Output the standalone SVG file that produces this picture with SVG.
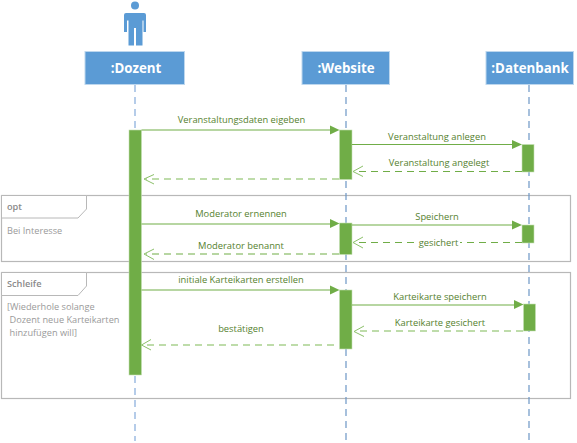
<svg xmlns="http://www.w3.org/2000/svg" width="577" height="443" viewBox="0 0 577 443">
<style>
text{font-family:"Open Sans","Noto Sans","Liberation Sans",sans-serif}
.hd{fill:#5b9bd5;stroke:#bdd7ee;stroke-width:1}
.hdt{font-size:13.300px;font-weight:700;fill:#fff;text-anchor:middle}
.ll1{stroke:#9dbce2;stroke-width:1.5;stroke-dasharray:7 5;fill:none}
.ll2{stroke:#6d97c6;stroke-width:1.2;stroke-dasharray:7 5;fill:none}
.act{fill:#70ad47;stroke:#c5e0b4;stroke-width:.6}
.msg{stroke:#70ad47;stroke-width:1.2;fill:none}
.ret{stroke:#70ad47;stroke-width:1.2;stroke-dasharray:7 5;fill:none}
.ret2{stroke:#a9d18e;stroke-width:1.4;stroke-dasharray:7 5;fill:none}
.tri{fill:#70ad47}
.open{stroke:#8cc06a;stroke-width:1;fill:none}
.lb{font-size:9.350px;fill:#56822f;text-anchor:middle}
.frame{fill:none;stroke:#b8b8b8;stroke-width:1.2}
.tab{fill:#fff;stroke:#b8b8b8;stroke-width:1}
.ft{font-size:9.200px;fill:#9a9a9a}
.ftb{font-size:9.200px;fill:#8a8a8a;font-weight:600}
</style>
<g id="frame-opt"><rect class="frame" x="1.500" y="195.500" width="569" height="66"/><path class="tab" d="M1.500 195.500H86.500V209L78 218H1.500Z"/><text class="ftb" x="7" y="210">opt</text><text class="ft" x="7" y="234">Bei Interesse</text></g>
<g id="frame-schleife"><rect class="frame" x="1.500" y="272.500" width="569" height="126"/><path class="tab" d="M1.500 272.500H86.500V286L78 295.500H1.500Z"/><text class="ftb" x="7" y="287">Schleife</text><text class="ft" x="7" y="310">[Wiederhole solange</text><text class="ft" x="9.500" y="323">Dozent neue Karteikarten</text><text class="ft" x="9.500" y="336">hinzufügen will]</text></g>
<g id="lifelines"><path class="ll1" d="M135 85V129M135 376V441"/><path class="ll2" d="M346 85V441M529 85V441"/></g>
<g id="actor"><circle cx="135" cy="5.500" r="4" fill="#5b9bd5"/><path fill="#5b9bd5" d="M126 13H144Q146 13 146 15V32H143.500V20.500H142.500V45.500H136V28H134V45.500H128.500V20.500H127V32H124V15Q124 13 126 13Z"/></g>
<g id="dozent"><rect class="hd" x="85" y="51.500" width="99.500" height="33"/><text class="hdt" x="136" y="73">:Dozent</text></g>
<g id="website"><rect class="hd" x="302" y="51.500" width="87.500" height="33"/><text class="hdt" x="346" y="73">:Website</text></g>
<g id="datenbank"><rect class="hd" x="486" y="51.500" width="87.500" height="33"/><text class="hdt" x="530" y="73">:Datenbank</text></g>
<g id="activations">
<rect class="act" x="129" y="130" width="12.500" height="245"/>
<rect class="act" x="339.500" y="130" width="12.500" height="49.500"/>
<rect class="act" x="339.500" y="223" width="12.500" height="31.500"/>
<rect class="act" x="339.500" y="290" width="12.500" height="59"/>
<rect class="act" x="522" y="144.500" width="12" height="27.500"/>
<rect class="act" x="522" y="225" width="12" height="18"/>
<rect class="act" x="523.500" y="304" width="12" height="27"/>
</g>
<g id="connectors">
<path class="msg" d="M141.500 130H331"/><path class="tri" d="M330 125.500L339.500 130L330 134.500Z"/>
<path class="msg" d="M352 144.500H513"/><path class="tri" d="M512 140L522 144.500L512 149Z"/>
<path class="ret" d="M522 171.500H354"/><path class="open" d="M363 166L353 171.500L363 176.500"/>
<path class="ret2" d="M339 179H146"/><path class="open" d="M154 174.500L144 179L154 184"/>
<path class="msg" d="M141.500 224H331"/><path class="tri" d="M330 219L339.500 223.500L330 228Z"/>
<path class="msg" d="M352 225H513"/><path class="tri" d="M512 220.500L522 225L512 229.500Z"/>
<path class="ret" d="M522 242.500H354"/><path class="open" d="M363 237L353 242.500L363 248"/>
<path class="ret" d="M339 254H146"/><path class="open" d="M154 249L144 254L154 259.500"/>
<path class="msg" d="M141.500 290H331"/><path class="tri" d="M330 285.500L339.500 290L330 294.500Z"/>
<path class="msg" d="M352 305H514"/><path class="tri" d="M514 300L523.500 304.500L514 309Z"/>
<path class="ret2" d="M523 331H357"/><path class="open" d="M364 326L354 331.500L364 336.500"/>
<path class="ret2" d="M334 345H147"/><path class="open" d="M151 339.500L141.500 345L151 350"/>
</g>
<g id="labels">
<text class="lb" x="241.500" y="123">Veranstaltungsdaten eigeben</text>
<text class="lb" x="437" y="140">Veranstaltung anlegen</text>
<text class="lb" x="439" y="166">Veranstaltung angelegt</text>
<text class="lb" x="241" y="217">Moderator ernennen</text>
<text class="lb" x="437" y="220">Speichern</text>
<rect x="417" y="237" width="43" height="11" fill="#fff"/>
<text class="lb" x="438.500" y="246">gesichert</text>
<text class="lb" x="241" y="249">Moderator benannt</text>
<text class="lb" x="241" y="283">initiale Karteikarten erstellen</text>
<text class="lb" x="440" y="300">Karteikarte speichern</text>
<text class="lb" x="440" y="326">Karteikarte gesichert</text>
<text class="lb" x="241" y="332">bestätigen</text>
</g>
</svg>
